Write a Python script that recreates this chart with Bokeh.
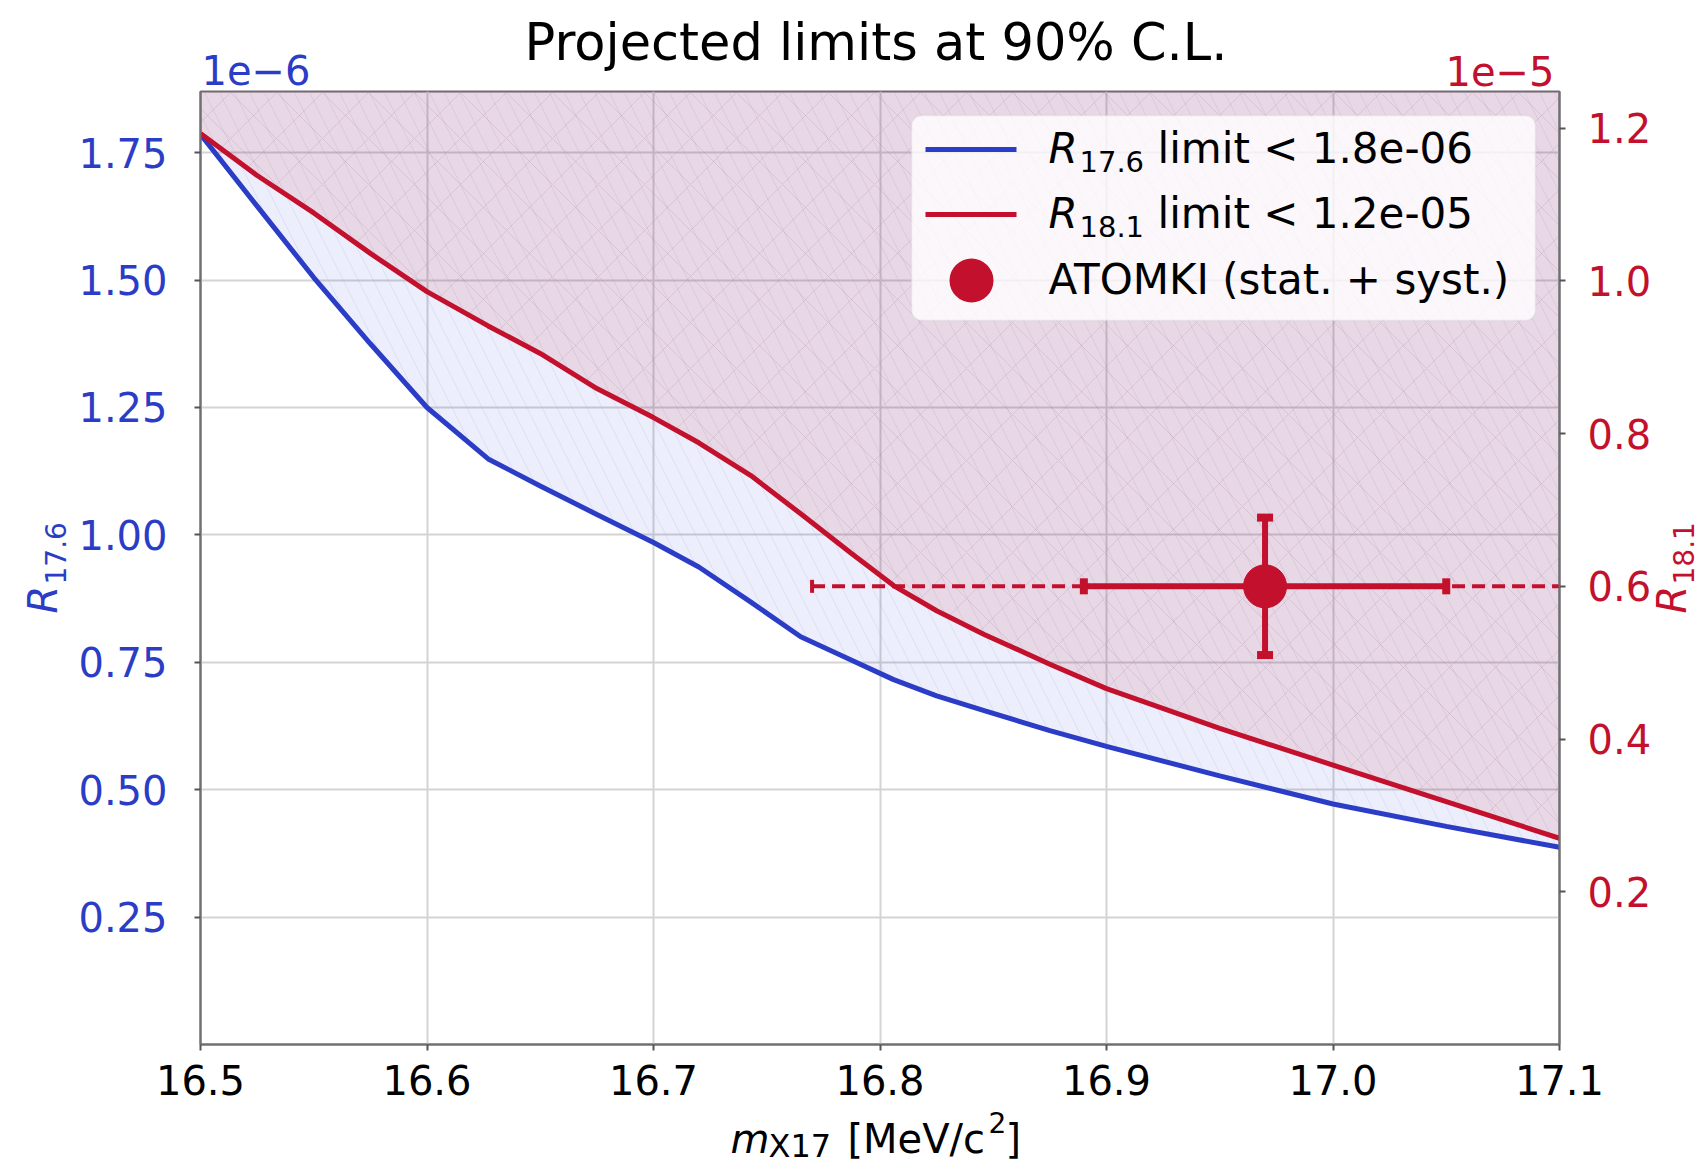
import math
from bokeh.plotting import figure
from bokeh.models import (Range1d, LinearAxis, FixedTicker, PrintfTickFormatter,
                          Label, BoxAnnotation)
from bokeh.embed import file_html
from bokeh.resources import INLINE

# ---------------- data ----------------
mass = [16.50, 16.525, 16.55, 16.575, 16.60, 16.627, 16.65, 16.675, 16.70, 16.72,
        16.743, 16.765, 16.787, 16.806, 16.825, 16.846, 16.875, 16.90, 16.95, 17.00,
        17.05, 17.10]
# R_17.6 projected limit (units of 1e-6)
r176_limit = [1.786, 1.645, 1.505, 1.375, 1.25, 1.149, 1.096, 1.04, 0.985, 0.937,
              0.868, 0.800, 0.755, 0.716, 0.684, 0.655, 0.616, 0.585, 0.527, 0.472,
              0.428, 0.387]
# R_18.1 projected limit (units of 1e-5)
r181_limit = [1.193, 1.138, 1.089, 1.036, 0.986, 0.941, 0.905, 0.859, 0.821, 0.788,
              0.745, 0.695, 0.644, 0.601, 0.568, 0.537, 0.498, 0.466, 0.414, 0.366,
              0.318, 0.270]

atomki_mass = [16.97]
atomki_r181 = [0.60]
atomki_mass_err_stat = [0.08]
atomki_mass_err_tot = [0.20]
atomki_r181_err = [0.09]

x_ticks = [16.5, 16.6, 16.7, 16.8, 16.9, 17.0, 17.1]
left_ticks = [0.25, 0.50, 0.75, 1.00, 1.25, 1.50, 1.75]
right_ticks = [0.2, 0.4, 0.6, 0.8, 1.0, 1.2]

title_text = "Projected limits at 90% C.L."
legend_r176 = "limit < 1.8e-06"
legend_r181 = "limit < 1.2e-05"
legend_atomki = "ATOMKI (stat. + syst.)"

# ---------------- styling ----------------
BLUE = "#2b3cc6"
RED = "#c3102c"
FONT = "DejaVu Sans"
W, H = 1701, 1165
FL, FR, FT, FB = 200, 1559, 91, 1044
SHIFT = 0.37  # baseline correction (em) for Label placement


def sx(cx):
    return cx - FL


def sy(cy):
    return FB - cy


p = figure(width=W, height=H, output_backend="svg", toolbar_location=None,
           title_location=None,
           x_range=Range1d(16.5, 17.1), y_range=Range1d(0.0, 1.87),
           min_border_left=FL, min_border_right=W - FR,
           min_border_top=FT, min_border_bottom=H - FB)
p.extra_y_ranges = {"right": Range1d(0.0, 1.248)}
p.background_fill_color = "white"
p.border_fill_color = "white"
p.outline_line_color = "#707070"
p.outline_line_width = 2

xa = p.xaxis[0]
ya = p.yaxis[0]
xa.ticker = FixedTicker(ticks=x_ticks)
xa.formatter = PrintfTickFormatter(format="%.1f")
ya.ticker = FixedTicker(ticks=left_ticks)
ya.formatter = PrintfTickFormatter(format="%.2f")
ra = LinearAxis(y_range_name="right", ticker=FixedTicker(ticks=right_ticks),
                formatter=PrintfTickFormatter(format="%.1f"))
p.add_layout(ra, "right")

for ax, col in ((xa, "black"), (ya, BLUE), (ra, RED)):
    ax.axis_line_color = "#707070"
    ax.axis_line_width = 2
    ax.major_tick_line_color = "#555555"
    ax.major_tick_line_width = 2
    ax.major_tick_out = 6
    ax.major_tick_in = 0
    ax.minor_tick_line_color = None
    ax.major_label_text_font = FONT
    ax.major_label_text_font_size = "40px"
    ax.major_label_text_color = col
xa.major_label_standoff = 14
ya.major_label_standoff = 27
ra.major_label_standoff = 22

p.xgrid.ticker = FixedTicker(ticks=x_ticks)
p.ygrid.ticker = FixedTicker(ticks=left_ticks)
for g in (p.xgrid, p.ygrid):
    g.grid_line_color = "#d4d4d4"
    g.grid_line_width = 2

# ---------------- excluded regions ----------------
top_left = [p.y_range.end] * len(mass)
top_right = [p.extra_y_ranges["right"].end] * len(mass)
p.varea(x=mass, y1=r176_limit, y2=top_left, fill_color="#3040d0", fill_alpha=0.09,
        hatch_pattern="\\", hatch_color="#a4aad8", hatch_alpha=0.22,
        hatch_scale=30, hatch_weight=1)
p.varea(x=mass, y1=r181_limit, y2=top_right, y_range_name="right",
        fill_color="#c0102a", fill_alpha=0.10,
        hatch_pattern="x", hatch_color="#9c8094", hatch_alpha=0.22,
        hatch_scale=46, hatch_weight=1)

p.line(mass, r176_limit, line_color=BLUE, line_width=5)
p.line(mass, r181_limit, y_range_name="right", line_color=RED, line_width=5)

# ---------------- ATOMKI point ----------------
lo_tot = [m - e for m, e in zip(atomki_mass, atomki_mass_err_tot)]
hi_tot = [m + e for m, e in zip(atomki_mass, atomki_mass_err_tot)]
lo_st = [m - e for m, e in zip(atomki_mass, atomki_mass_err_stat)]
hi_st = [m + e for m, e in zip(atomki_mass, atomki_mass_err_stat)]
y_lo = [r - e for r, e in zip(atomki_r181, atomki_r181_err)]
y_hi = [r + e for r, e in zip(atomki_r181, atomki_r181_err)]

p.segment(x0=lo_tot, y0=atomki_r181, x1=hi_tot, y1=atomki_r181, y_range_name="right",
          line_color=RED, line_width=4, line_dash="13 7")
p.rect(x=lo_tot, y=atomki_r181, width=4, height=13, width_units="screen",
       height_units="screen", fill_color=RED, line_color=None, y_range_name="right")
p.segment(x0=lo_st, y0=atomki_r181, x1=hi_st, y1=atomki_r181, y_range_name="right",
          line_color=RED, line_width=6)
p.rect(x=lo_st + hi_st, y=atomki_r181 * 2, width=8, height=16, width_units="screen",
       height_units="screen", fill_color=RED, line_color=None, y_range_name="right")
p.segment(x0=atomki_mass, y0=y_lo, x1=atomki_mass, y1=y_hi, y_range_name="right",
          line_color=RED, line_width=6)
p.rect(x=atomki_mass * 2, y=y_lo + y_hi, width=16, height=8, width_units="screen",
       height_units="screen", fill_color=RED, line_color=None, y_range_name="right")
p.scatter(x=atomki_mass, y=atomki_r181, size=43, marker="circle", fill_color=RED,
          line_color=RED, y_range_name="right")

# ---------------- legend (manual, for subscripts) ----------------
def box(l, r, t, b, **kw):
    return BoxAnnotation(left=sx(l), right=sx(r), top=sy(t), bottom=sy(b),
                         left_units="screen", right_units="screen",
                         top_units="screen", bottom_units="screen", **kw)


p.add_layout(box(911, 1535, 115, 320, fill_color="white", fill_alpha=0.8,
                 line_color="#d0d0d0", line_width=1.5, border_radius=10))
p.add_layout(box(925, 1016, 146.5, 151.5, fill_color=BLUE, fill_alpha=1, line_color=None))
p.add_layout(box(925, 1016, 211.5, 216.5, fill_color=RED, fill_alpha=1, line_color=None))
p.add_layout(box(949, 993, 258, 302, fill_color=RED, fill_alpha=1, line_color=None,
                 border_radius=22))


def lab(cx, cy, text, size, color="black", style="normal", align="left"):
    cy = cy - SHIFT * size
    p.add_layout(Label(x=sx(cx), y=sy(cy), x_units="screen", y_units="screen", text=text,
                       text_font=FONT, text_font_size=f"{size}px", text_color=color,
                       text_font_style=style, text_align=align,
                       text_baseline="alphabetic"))


lab(1048, 164, "R", 42, style="italic")
lab(1079, 172, "17.6", 29)
lab(1157, 164, legend_r176, 42)
lab(1048, 229, "R", 42, style="italic")
lab(1079, 237, "18.1", 29)
lab(1157, 229, legend_r181, 42)
lab(1048, 295, legend_atomki, 42)

# ---------------- overlay canvas for texts outside the plot frame ----------------
ov = figure(width=W, height=H, x_range=Range1d(0, W), y_range=Range1d(H, 0),
            x_axis_type=None, y_axis_type=None, output_backend="svg",
            toolbar_location=None, title_location=None, min_border=0,
            outline_line_color=None, background_fill_alpha=0, border_fill_alpha=0,
            styles={"position": "absolute", "top": "0px", "left": "0px",
                    "pointer-events": "none"})


def olab(cx, cy, text, size, color="black", style="normal", align="left", angle=0.0):
    if angle == 0.0:
        cy = cy - SHIFT * size
    else:
        cx = cx - SHIFT * size
    ov.add_layout(Label(x=cx, y=cy, text=text, text_font=FONT,
                        text_font_size=f"{size}px", text_color=color,
                        text_font_style=style, text_align=align,
                        text_baseline="alphabetic", angle=angle))


olab(875.5, 61, title_text, 51, align="center")
olab(201, 84, "1e\u22126", 40, color=BLUE)
olab(1554, 85, "1e\u22125", 40, color=RED, align="right")

olab(730, 1153, "m", 40, style="italic")
olab(768, 1157, "X17", 32)
olab(847, 1153, "[MeV/c", 40)
olab(988, 1132, "2", 28)
olab(1005, 1153, "]", 40)

olab(57, 613, "R", 40, color=BLUE, style="italic", angle=math.pi / 2)
olab(65, 584, "17.6", 28, color=BLUE, angle=math.pi / 2)
olab(1686, 613, "R", 40, color=RED, style="italic", angle=math.pi / 2)
olab(1693, 584, "18.1", 28, color=RED, angle=math.pi / 2)

open("out.html", "w").write(file_html([p, ov], INLINE))
